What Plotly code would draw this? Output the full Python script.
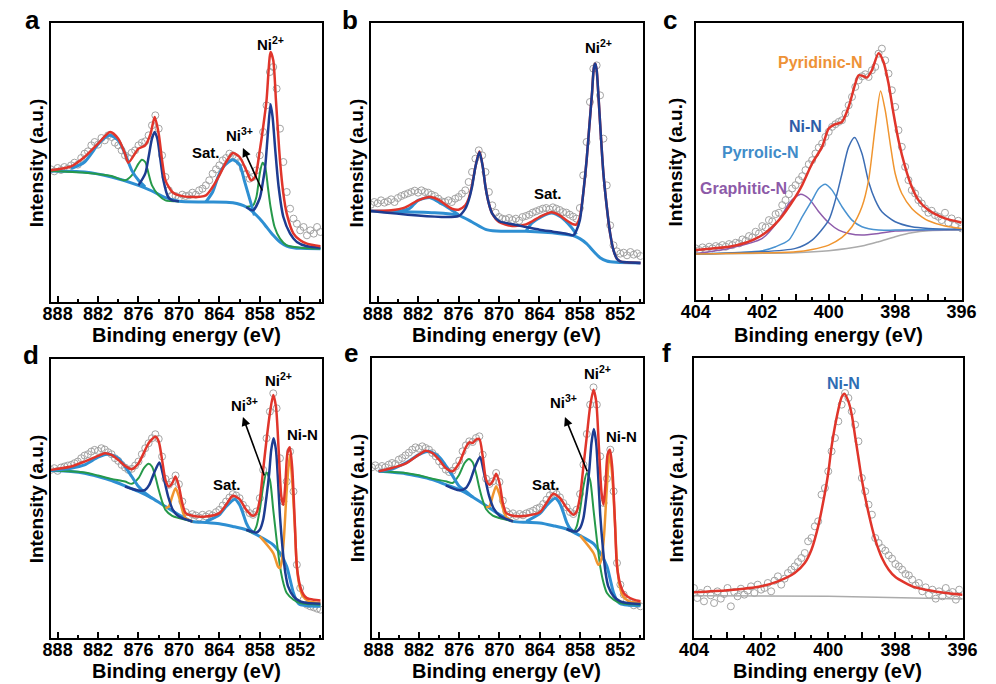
import plotly.graph_objects as go

W, H = 996, 684
FONT = "Arial, 'Liberation Sans', Helvetica, sans-serif"

RED = "#E0352B"
NAVY = "#1D3C91"
GREEN = "#26994A"
LBLUE = "#2E8FD2"
ORANGE = "#F0952F"
PT = "#A3A3A3"
GREY = "#ABABAB"
PURPLE = "#8E5CAB"
NIN_BLUE = "#3C6DB4"
PYR_BLUE = "#4A93D1"

# ---------------- measured data (energy grids) ----------------
NI_E = [889.0, 888.5, 888.0, 887.5, 887.0, 886.5, 886.0, 885.5, 885.0, 884.5,
        884.0, 883.5, 883.0, 882.5, 882.0, 881.5, 881.0, 880.5, 880.0, 879.5,
        879.0, 878.5, 878.0, 877.5, 877.0, 876.5, 876.0, 875.5, 875.0, 874.5,
        874.0, 873.5, 873.0, 872.5, 872.0, 871.5, 871.0, 870.5, 870.0, 869.5,
        869.0, 868.5, 868.0, 867.5, 867.0, 866.5, 866.0, 865.5, 865.0, 864.5,
        864.0, 863.5, 863.0, 862.5, 862.0, 861.5, 861.0, 860.5, 860.0, 859.5,
        859.0, 858.5, 858.0, 857.5, 857.0, 856.5, 856.0, 855.5, 855.0, 854.5,
        854.0, 853.5, 853.0, 852.5, 852.0, 851.5, 851.0, 850.5, 850.0, 849.5,
        849.0]
N_E = [404.0, 403.9, 403.8, 403.7, 403.6, 403.5, 403.4, 403.3, 403.2, 403.1,
       403.0, 402.9, 402.8, 402.7, 402.6, 402.5, 402.4, 402.3, 402.2, 402.1,
       402.0, 401.9, 401.8, 401.7, 401.6, 401.5, 401.4, 401.3, 401.2, 401.1,
       401.0, 400.9, 400.8, 400.7, 400.6, 400.5, 400.4, 400.3, 400.2, 400.1,
       400.0, 399.9, 399.8, 399.7, 399.6, 399.5, 399.4, 399.3, 399.2, 399.1,
       399.0, 398.9, 398.8, 398.7, 398.6, 398.5, 398.4, 398.3, 398.2, 398.1,
       398.0, 397.9, 397.8, 397.7, 397.6, 397.5, 397.4, 397.3, 397.2, 397.1,
       397.0, 396.9, 396.8, 396.7, 396.6, 396.5, 396.4, 396.3, 396.2, 396.1,
       396.0]

# ---------------- panel a ----------------
A_DATA = [398, 392, 402, 396, 405, 400, 410, 418, 412, 432,
          445, 452, 470, 480, 472, 492, 485, 500, 495, 478,
          470, 455, 440, 432, 448, 455, 470, 478, 482, 500,
          530, 560, 520, 440, 375, 335, 320, 318, 312, 322,
          318, 320, 328, 322, 335, 340, 350, 365, 385, 398,
          410, 425, 432, 445, 440, 432, 420, 400, 385, 370,
          375, 395, 440, 510, 590, 690, 705, 640, 520, 420,
          330, 280, 250, 235, 215, 225, 200, 215, 205, 225,
          210]
A_BG_E = [889, 884, 880, 876, 874, 872, 870, 866, 862, 860, 858, 857, 856, 855, 854, 853, 852, 849]
A_BG_I = [393, 390, 375, 350, 333, 313, 302, 300, 298, 285, 250, 225, 200, 180, 168, 163, 161, 160]
A_SAT_E = [886, 884, 882, 881, 880.2, 879, 878, 877, 876, 875, None,
           866, 865, 864.1, 863.2, 862, 861, 860.3, 859.3, 858.8]
A_SAT_I = [400, 420, 473, 493, 500, 485, 445, 395, 365, 345, None,
           300, 330, 380, 410, 427, 412, 365, 295, 260]
A_NI2_E = [876, 875, 874.5, 874, 873.6, 873.2, 872.8, 872.3, 871.6, 871, 870, None,
           860, 859, 858, 857.5, 857.2, 856.8, 856.4, 856.1, 855.7, 855.2, 854.5, 853.5, 852.5, 851, 849]
A_NI2_I = [350, 385, 435, 490, 510, 490, 435, 365, 315, 305, 302, None,
           285, 275, 312, 365, 405, 505, 593, 555, 455, 345, 255, 205, 180, 167, 163]
A_NI3_E = [889, 884, 880, 878, 877, 876, 875.5, 875, 874.5, 874, 873, 872, 870, None,
           860, 859, 858.5, 858, 857.6, 857.2, 856.8, 856.4, 855.8, 855, 854, 852, 849]
A_NI3_I = [393, 388, 378, 365, 380, 415, 427, 420, 385, 350, 320, 305, 302, None,
           285, 290, 315, 385, 418, 405, 345, 285, 225, 190, 170, 163, 160]
A_FIT_E = [889, 886, 884, 882, 880.2, 879, 878, 877.5, 876, 875, 874.2, 873.6, 873, 872.5, 872,
           871, 870, 868, 866, 865, 864, 863, 862, 861, 860, 859.3, 858.7, 858, 857.5, 857,
           856.4, 856, 855.6, 855, 854.5, 854, 853, 852, 851, 849]
A_FIT_I = [395, 407, 435, 475, 510, 490, 445, 418, 460, 470, 505, 555, 505, 425, 365,
           330, 320, 315, 320, 345, 380, 420, 447, 435, 395, 365, 375, 455, 525, 605,
           750, 725, 605, 425, 325, 265, 205, 185, 175, 167]

# ---------------- panel b ----------------
B_DATA = [292, 300, 296, 305, 298, 302, 308, 300, 312, 318,
          322, 326, 330, 334, 328, 335, 330, 328, 322, 318,
          310, 302, 300, 305, 300, 310, 315, 325, 335, 360,
          390, 430, 455, 440, 390, 330, 290, 268, 255, 250,
          248, 252, 246, 250, 244, 255, 258, 262, 268, 272,
          276, 280, 282, 278, 284, 280, 276, 270, 268, 262,
          256, 250, 282, 380, 480, 600, 700, 710, 620, 490,
          350, 230, 170, 152, 145, 148, 140, 150, 142, 146,
          138]
B_BG_E = [889, 880, 876, 874, 872, 870.4, 866, 861, 859, 858, 857, 856, 855, 854, 852.6, 849]
B_BG_I = [273, 268, 260, 240, 218, 213, 212, 205, 199, 190, 175, 153, 133, 123, 119, 117]
B_SAT_E = [885, 883.3, 882, 880.2, 878.5, 877.1, 876, None,
           866, 865.1, 863.6, 862.2, 860.8, 859.3, 858.5]
B_SAT_I = [271, 280, 305, 313, 295, 277, 262, None,
           212, 237, 257, 267, 255, 225, 203]
B_NI2_E = [889, 876, 875, 874.5, 874, 873.5, 872.9, 872.4, 872, 871.5, 871, 870, 868, 866, 864, 862,
           860, 859, 858.5, 858, 857.5, 857, 856.6, 856.2, 855.9, 855.7, 855.5, 855.2, 854.9, 854.5,
           854, 853.5, 853, 852.5, 852, 851, 849]
B_NI2_I = [273, 258, 280, 305, 345, 405, 450, 405, 345, 295, 265, 243, 233, 225, 217, 211,
           205, 200, 215, 245, 325, 425, 525, 625, 705, 715, 695, 605, 505, 385,
           285, 205, 155, 130, 122, 119, 117]
B_FIT_E = [889, 886, 884, 882, 880.2, 879, 878, 877, 876, 875, 874.5, 874, 873.5, 872.9, 872.4,
           872, 871.5, 871, 870, 868, 866, 865, 864, 862.2, 861, 860, 859, 858.5, 858, 857.5,
           857, 856.6, 856.2, 855.9, 855.7, 855.5, 855.2, 854.9, 854.5, 854, 853.5, 853, 852.5,
           852, 851, 849]
B_FIT_I = [273, 275, 283, 305, 315, 307, 293, 280, 277, 290, 310, 350, 405, 452, 405,
           345, 295, 265, 240, 228, 233, 243, 255, 269, 260, 245, 233, 233, 255, 325,
           425, 525, 625, 705, 715, 695, 605, 505, 385, 285, 205, 155, 130,
           122, 119, 117]

# ---------------- panel c (N 1s) ----------------
C_DATA = [155, 150, 158, 152, 160, 155, 162, 158, 165, 160,
          168, 165, 172, 170, 182, 178, 192, 188, 205, 200,
          222, 218, 240, 236, 258, 262, 285, 300, 318, 335,
          345, 360, 372, 390, 408, 420, 440, 458, 470, 490,
          505, 520, 528, 535, 540, 560, 585, 610, 640, 660,
          672, 678, 670, 690, 700, 740, 755, 720, 680, 630,
          580, 510, 460, 400, 360, 330, 320, 300, 290, 275,
          262, 268, 255, 250, 240, 262, 232, 245, 225, 238,
          215]
C_BG_E = [404, 401, 400, 399, 398.5, 398, 397.5, 397, 396]
C_BG_I = [138, 142, 148, 162, 175, 190, 202, 208, 210]
C_GRA_E = [404, 403, 402, 401.5, 401.2, 401, 400.84, 400.6, 400.3, 400, 399.7, 399.4, 399, 398.5, 398, 397, 396]
C_GRA_I = [140, 155, 185, 240, 290, 310, 318, 305, 265, 232, 210, 200, 195, 200, 207, 210, 212]
C_PYR_E = [404, 402, 401.6, 401.2, 400.8, 400.5, 400.3, 400.1, 399.9, 399.6, 399.3, 399, 398.5, 398, 396]
C_PYR_I = [138, 148, 160, 180, 250, 300, 335, 348, 330, 280, 240, 220, 210, 210, 212]
C_NIN_E = [404, 401, 400.5, 400, 399.8, 399.6, 399.4, 399.22, 399, 398.8, 398.6, 398.4, 398, 397.5, 397, 396]
C_NIN_I = [138, 155, 180, 240, 300, 380, 460, 488, 440, 355, 300, 265, 235, 220, 215, 212]
C_PYD_E = [404, 401, 400.5, 400, 399.6, 399.3, 399, 398.8, 398.6, 398.44, 398.3, 398.15, 398,
           397.8, 397.5, 397.2, 397, 396.5, 396]
C_PYD_I = [138, 145, 152, 165, 188, 220, 280, 360, 520, 628, 570, 470, 380,
           320, 275, 250, 238, 222, 215]
C_FIT_E = [404, 403.5, 403, 402.5, 402, 401.5, 401, 400.8, 400.5, 400.2, 400, 399.8, 399.6, 399.4,
           399.2, 399.1, 398.95, 398.85, 398.7, 398.5, 398.35, 398.2, 398.05, 397.9, 397.7, 397.5,
           397.3, 397, 396.5, 396]
C_FIT_I = [150, 155, 160, 172, 195, 240, 310, 345, 410, 460, 515, 528, 535, 580,
           650, 675, 672, 668, 690, 741, 715, 650, 560, 480, 400, 340,
           300, 270, 245, 233]

# ---------------- panel d ----------------
D_DATA = [505, 510, 502, 512, 515, 518, 520, 525, 530, 540,
          548, 552, 560, 565, 562, 570, 566, 558, 552, 540,
          532, 520, 512, 505, 508, 518, 530, 552, 570, 585,
          600, 612, 598, 545, 478, 460, 470, 488, 462, 410,
          378, 365, 372, 368, 362, 370, 365, 372, 368, 378,
          385, 398, 410, 422, 432, 428, 420, 400, 388, 375,
          370, 380, 420, 505, 600, 680, 735, 690, 540, 410,
          470, 560, 440, 220, 150, 115, 100, 95, 92, 88,
          85]
D_BG_E = [889, 886, 884, 882, 880, 878, 876, 874, 872, 870, 868, 866, 864, 862, 860, 858, 856,
          855, 854, 853.5, 853, 852.5, 852, 851, 849]
D_BG_I = [503, 500, 495, 485, 473, 457, 440, 420, 395, 370, 350, 347, 343, 335, 325, 305, 280,
          255, 215, 175, 135, 110, 100, 97, 95]
D_SAT_E = [889, 886, 884, 882, 880.5, 879, 878, 877, 876, 875, 874, None,
           866, 864, 863, 861.7, 861, 860.5, 860, 859.5, 859]
D_SAT_I = [503, 510, 520, 543, 553, 540, 515, 485, 455, 435, 420, None,
           350, 370, 395, 417, 400, 375, 345, 327, 318]
D_NI2_E = [878, 876, 875, 874.4, 873.7, 872.9, 872.3, 871.6, 870.9, 870, 868, None,
           860, 858.5, 858, 857.5, 857, 856.6, 856.3, 855.95, 855.6, 855.3, 855, 854.6, 854.2,
           853.8, 853, 852, 851, 849]
D_NI2_I = [455, 443, 445, 460, 495, 527, 485, 425, 385, 365, 350, None,
           325, 317, 325, 355, 425, 495, 565, 600, 565, 475, 365, 265, 195,
           155, 125, 110, 105, 103]
D_NI3_E = [889, 884, 882, 880, 878, 877, 876, 875.2, 874.5, 874, 873.5, 873, 872.5, 872, 871, 870, 868, None,
           860, 859, 858.5, 858, 857.5, 857, 856.5, 856, 855.5, 855, 854.5, 854, 853, 852, 849]
D_NI3_I = [503, 497, 488, 478, 470, 463, 480, 510, 523, 515, 485, 445, 410, 385, 367, 360, 350, None,
           325, 317, 335, 385, 455, 497, 475, 385, 295, 215, 165, 135, 115, 105, 100]
D_NIN_E = [872, 871.5, 871, 870.5, 870, 869.5, 869, 868, None,
           858, 856, 855.3, 855, 854.7, 854.4, 854.0, 853.55, 853.2, 852.8, 852.5, 852.1, 851.6, 850.7, 849]
D_NIN_I = [390, 395, 425, 450, 425, 385, 360, 350, None,
           305, 255, 215, 210, 235, 305, 445, 550, 475, 335, 215, 155, 125, 110, 105]
D_FIT_E = [889, 886, 884, 882, 881, 880, 879, 878, 877, 876, 875, 874.5, 874, 873.5, 873, 872.5, 872,
           871.5, 871, 870.5, 870, 869.5, 869, 868, 866, 864, 863, 862, 861, 860, 859, 858.5, 858,
           857.5, 857, 856.5, 856, 855.6, 855.2, 854.8, 854.5, 854.2, 853.9, 853.55, 853.2, 852.8,
           852.5, 852, 851.5, 851, 850, 849]
D_FIT_I = [505, 515, 530, 547, 555, 550, 535, 517, 507, 525, 565, 585, 597, 605, 590, 535, 475,
           455, 465, 485, 455, 405, 375, 367, 365, 375, 400, 427, 417, 385, 367, 375, 415,
           505, 595, 675, 730, 695, 565, 425, 400, 465, 555, 573, 515, 345,
           215, 155, 130, 120, 115, 113]

# ---------------- panel e ----------------
E_DATA = [512, 518, 510, 516, 512, 520, 525, 522, 535, 540,
          548, 556, 565, 572, 568, 575, 570, 565, 555, 545,
          530, 518, 505, 498, 502, 515, 532, 560, 578, 590,
          588, 600, 605, 550, 478, 462, 470, 495, 468, 412,
          380, 370, 374, 366, 372, 368, 374, 378, 382, 388,
          392, 402, 415, 428, 438, 432, 422, 405, 392, 378,
          372, 385, 432, 520, 612, 700, 752, 700, 545, 405,
          478, 565, 440, 225, 160, 130, 112, 105, 98, 102,
          95]
E_BG_E = [888, 886, 884, 882, 880, 878, 876, 874, 872, 870, 868, 866, 864, 862, 860, 858, 856,
          855, 854, 853.5, 853, 852.5, 852, 851, 849]
E_BG_I = [500, 497, 493, 485, 475, 460, 445, 423, 397, 370, 350, 347, 345, 337, 327, 307, 283,
          255, 215, 175, 135, 113, 103, 99, 97]
E_SAT_E = [888, 886, 884, 882, 880.5, 879, 878, 877, 876, 875, 874, None,
           866, 864, 863, 861.7, 861, 860.5, 860, 859.5, 859]
E_SAT_I = [500, 507, 525, 550, 560, 543, 517, 487, 455, 440, 423, None,
           350, 373, 397, 419, 403, 377, 347, 329, 320]
E_NI2_E = [878, 876, 875, 874.4, 873.7, 872.9, 872.3, 871.6, 870.9, 870, 868, None,
           860, 859, 858.5, 858, 857.5, 857, 856.6, 856.3, 855.95, 855.6, 855.3, 855, 854.6,
           854.2, 853.8, 853, 852, 851, 849]
E_NI2_I = [458, 443, 450, 470, 510, 543, 495, 430, 390, 367, 350, None,
           327, 320, 320, 330, 360, 435, 510, 585, 627, 585, 485, 370, 270,
           195, 155, 125, 110, 105, 102]
E_NI3_E = [888, 884, 882, 880, 878, 877, 876, 875.2, 874.55, 874, 873.5, 873, 872.5, 872, 871, 870, 868, None,
           860, 859, 858.5, 858, 857.5, 857, 856.5, 856, 855.5, 855, 854.5, 854, 853, 852, 849]
E_NI3_I = [500, 495, 488, 478, 470, 465, 490, 525, 537, 527, 495, 450, 413, 387, 367, 360, 350, None,
           327, 319, 335, 385, 455, 495, 473, 385, 295, 215, 165, 135, 115, 105, 100]
E_NIN_E = [872, 871.5, 871, 870.5, 870, 869.5, 869, 868, None,
           858, 856, 855.3, 855, 854.7, 854.4, 854.0, 853.6, 853.2, 852.8, 852.5, 852.1, 851.6, 850.7, 849]
E_NIN_I = [392, 395, 427, 455, 430, 390, 363, 350, None,
           307, 255, 220, 225, 250, 315, 455, 557, 485, 345, 225, 155, 125, 110, 105]
E_FIT_E = [888, 886, 884, 882, 881, 880, 879, 878, 877, 876, 875, 874.5, 874, 873.5, 873, 872.5, 872,
           871.5, 871, 870.5, 870, 869.5, 869, 868, 866, 864, 863, 862, 861, 860, 859, 858.5, 858,
           857.5, 857, 856.5, 856, 855.6, 855.2, 854.8, 854.5, 854.2, 853.9, 853.55, 853.2, 852.8,
           852.5, 852, 851.5, 851, 850, 849]
E_FIT_I = [500, 510, 523, 550, 562, 555, 535, 510, 500, 525, 573, 587, 585, 595, 597, 545, 475,
           460, 470, 493, 465, 405, 375, 367, 367, 377, 405, 433, 420, 390, 370, 380, 425,
           515, 605, 695, 745, 710, 575, 435, 400, 465, 550, 565, 510, 345,
           215, 160, 135, 125, 115, 110]

# ---------------- panel f (N 1s) ----------------
F_DATA = [150, 120, 135, 110, 145, 128, 105, 140, 118, 132,
          150, 95, 138, 125, 148, 130, 142, 155, 135, 160,
          145, 150, 165, 140, 172, 185, 160, 178, 195, 205,
          215, 228, 240, 255, 290, 300, 335, 350, 430, 450,
          500, 560, 600, 650, 700, 735, 720, 680, 640, 590,
          480, 440, 400, 370, 300, 285, 270, 262, 248, 238,
          222, 215, 205, 192, 188, 175, 158, 165, 140, 152,
          130, 145, 118, 140, 125, 150, 132, 138, 115, 145,
          128]
F_BG_E = [404, 400, 396]
F_BG_I = [127, 125, 117]
F_FIT_E = [404, 403, 402, 401.5, 401, 400.7, 400.5, 400.3, 400.1, 400, 399.9, 399.8, 399.7, 399.6,
           399.52, 399.4, 399.3, 399.2, 399.1, 399, 398.8, 398.6, 398.4, 398.2, 398, 397.5, 397,
           396.5, 396]
F_FIT_I = [137, 143, 155, 170, 195, 225, 265, 335, 435, 495, 575, 635, 685, 723,
           733, 710, 670, 605, 540, 475, 375, 295, 240, 205, 183, 155, 143,
           135, 130]

# tick labels
NI_TICKS = [888, 882, 876, 870, 864, 858, 852]
NI_MINOR = [885, 879, 873, 867, 861, 855, 849]
N_TICKS = [404, 403, 402, 401, 400, 399, 398, 397, 396]
N_TICK_TEXT = ["404", " ", "402", " ", "400", " ", "398", " ", "396"]
N_MINOR = [403.5, 402.5, 401.5, 400.5, 399.5, 398.5, 397.5, 396.5]

# ---------------- layout geometry (pixels) ----------------
PANELS = {
    1: dict(x=(37, 317), y=(23, 302), xr=(889, 848.7), yr=(0, 837), kind="ni"),
    2: dict(x=(367, 647), y=(23, 302), xr=(889, 848.7), yr=(0, 837), kind="ni"),
    3: dict(x=(702, 976), y=(23, 300), xr=(404, 396), yr=(0, 832), kind="n"),
    4: dict(x=(37, 317), y=(359, 638), xr=(889, 848.7), yr=(0, 838), kind="ni"),
    5: dict(x=(368, 647), y=(358, 638), xr=(889, 848.7), yr=(0, 840), kind="ni"),
    6: dict(x=(700, 977), y=(358, 638), xr=(404, 396), yr=(0, 840), kind="n"),
}


def px(xp):
    return xp / W


def py(yp):
    return 1 - yp / H


fig = go.Figure()


def ax_names(i):
    return ("x" if i == 1 else f"x{i}"), ("y" if i == 1 else f"y{i}")


def add_pts(i, E, I):
    xa, ya = ax_names(i)
    fig.add_trace(go.Scatter(x=E, y=I, mode="markers", xaxis=xa, yaxis=ya,
                             marker=dict(symbol="circle-open", size=7, color=PT,
                                         line=dict(width=1, color=PT)),
                             showlegend=False, hoverinfo="skip"))


def add_line(i, E, I, color, width):
    xa, ya = ax_names(i)
    fig.add_trace(go.Scatter(x=E, y=I, mode="lines", xaxis=xa, yaxis=ya,
                             line=dict(color=color, width=width, shape="spline", smoothing=0.7),
                             connectgaps=False, showlegend=False, hoverinfo="skip"))


# panel a
add_pts(1, NI_E, A_DATA)
add_line(1, A_BG_E, A_BG_I, LBLUE, 3)
add_line(1, A_NI3_E, A_NI3_I, GREEN, 2)
add_line(1, A_SAT_E, A_SAT_I, LBLUE, 3)
add_line(1, A_NI2_E, A_NI2_I, NAVY, 2.5)
add_line(1, A_FIT_E, A_FIT_I, RED, 2.5)

# panel b
add_pts(2, NI_E, B_DATA)
add_line(2, B_BG_E, B_BG_I, LBLUE, 3)
add_line(2, B_SAT_E, B_SAT_I, LBLUE, 3)
add_line(2, B_FIT_E, B_FIT_I, RED, 2.5)
add_line(2, B_NI2_E, B_NI2_I, NAVY, 2.5)

# panel c
add_pts(3, N_E, C_DATA)
add_line(3, C_BG_E, C_BG_I, GREY, 1.5)
add_line(3, C_GRA_E, C_GRA_I, PURPLE, 1.5)
add_line(3, C_PYR_E, C_PYR_I, PYR_BLUE, 1.5)
add_line(3, C_NIN_E, C_NIN_I, NIN_BLUE, 1.5)
add_line(3, C_PYD_E, C_PYD_I, ORANGE, 1.5)
add_line(3, C_FIT_E, C_FIT_I, RED, 2.5)

# panels d, e
for i, (bg, sat, ni2, ni3, nin, fit, dat) in {
    4: ((D_BG_E, D_BG_I), (D_SAT_E, D_SAT_I), (D_NI2_E, D_NI2_I), (D_NI3_E, D_NI3_I),
        (D_NIN_E, D_NIN_I), (D_FIT_E, D_FIT_I), D_DATA),
    5: ((E_BG_E, E_BG_I), (E_SAT_E, E_SAT_I), (E_NI2_E, E_NI2_I), (E_NI3_E, E_NI3_I),
        (E_NIN_E, E_NIN_I), (E_FIT_E, E_FIT_I), E_DATA),
}.items():
    add_pts(i, NI_E, dat)
    add_line(i, bg[0], bg[1], LBLUE, 3)
    add_line(i, ni3[0], ni3[1], GREEN, 2)
    add_line(i, sat[0], sat[1], LBLUE, 3)
    add_line(i, nin[0], nin[1], ORANGE, 2.5)
    add_line(i, ni2[0], ni2[1], NAVY, 2.5)
    add_line(i, fit[0], fit[1], RED, 2.5)

# panel f
add_pts(6, N_E, F_DATA)
add_line(6, F_BG_E, F_BG_I, GREY, 1.5)
add_line(6, F_FIT_E, F_FIT_I, RED, 2.5)

layout = dict(width=W, height=H, margin=dict(l=0, r=0, t=0, b=0),
              paper_bgcolor="white", plot_bgcolor="white",
              font=dict(family=FONT, color="black"))

TICKFONT = dict(family=FONT, size=18, color="black", weight="bold")
for i, p in PANELS.items():
    xk = "xaxis" if i == 1 else f"xaxis{i}"
    yk = "yaxis" if i == 1 else f"yaxis{i}"
    xa, ya = ax_names(i)
    xd = dict(domain=[px(p["x"][0]), px(p["x"][1])], range=list(p["xr"]), anchor=ya,
              showline=True, mirror=True, linecolor="black", linewidth=2,
              showgrid=False, zeroline=False, ticks="inside", ticklen=6, tickwidth=1.5,
              tickcolor="black", tickfont=TICKFONT, ticklabelstandoff=-6)
    if p["kind"] == "ni":
        xd.update(tickmode="array", tickvals=NI_TICKS, ticktext=[str(v) for v in NI_TICKS],
                  minor=dict(tickmode="array", tickvals=NI_MINOR,
                             ticks="inside", ticklen=3, tickwidth=1.5, tickcolor="black"))
    else:
        xd.update(tickmode="array", tickvals=N_TICKS, ticktext=N_TICK_TEXT,
                  minor=dict(tickmode="array", tickvals=N_MINOR,
                             ticks="inside", ticklen=3, tickwidth=1.5, tickcolor="black"))
    yd = dict(domain=[py(p["y"][1]), py(p["y"][0])], range=list(p["yr"]), anchor=xa,
              showline=True, mirror=True, linecolor="black", linewidth=2,
              showgrid=False, zeroline=False, showticklabels=False, ticks="")
    layout[xk] = xd
    layout[yk] = yd

fig.update_layout(**layout)

ann = []


def text(xp, yp, s, size=15, color="black", angle=0):
    ann.append(dict(x=px(xp), y=py(yp), xref="paper", yref="paper", text=s, showarrow=False,
                    xanchor="center", yanchor="middle", textangle=angle,
                    font=dict(family=FONT, size=size, color=color, weight="bold")))


def arrow(hx, hy, tx, ty):
    ann.append(dict(x=px(hx), y=py(hy), xref="paper", yref="paper", text="",
                    showarrow=True, ax=tx - hx, ay=ty - hy, arrowhead=2, arrowsize=1.1,
                    arrowwidth=1.6, arrowcolor="black"))


# panel letters
for (xp, yp, s) in [(18, 20, "a"), (345, 20, "b"), (675, 20, "c"),
                    (16, 355, "d"), (346, 353, "e"), (672, 353, "f")]:
    text(xp, yp, s, size=26)

# axis titles
for (cx, cy) in [(177, 335), (507, 335), (839, 335), (177, 671), (507, 671), (838, 671)]:
    text(cx, cy, "Binding energy (eV)", size=20)
for (cx, cy) in [(22, 163), (352, 163), (682, 162), (22, 499), (353, 498), (682, 498)]:
    text(cx, cy, "Intensity (a.u.)", size=19, angle=-90)

# peak labels
text(263, 43, "Ni<sup>2+</sup>")
text(231, 134, "Ni<sup>3+</sup>")
text(197, 152, "Sat.")
arrow(235, 148, 255, 192)

text(602, 47, "Ni<sup>2+</sup>")
text(550, 193, "Sat.")

text(830, 62, "Pyridinic-N", size=16, color="#EE9237")
text(815, 126, "Ni-N", size=16, color="#2E5DA8")
text(768, 152, "Pyrrolic-N", size=16, color="#418CC9")
text(751, 188, "Graphitic-N", size=16, color="#8C5AA8")

text(272, 379, "Ni<sup>2+</sup>")
text(237, 405, "Ni<sup>3+</sup>")
text(296, 434, "Ni-N")
text(219, 484, "Sat.")
arrow(235, 417, 257, 477)

text(601, 372, "Ni<sup>2+</sup>")
text(566, 401, "Ni<sup>3+</sup>")
text(625, 436, "Ni-N")
text(548, 484, "Sat.")
arrow(567, 417, 590, 473)

text(854, 383, "Ni-N", size=16, color="#2E6DB4")

fig.update_layout(annotations=ann)
fig.write_html("out.html")
